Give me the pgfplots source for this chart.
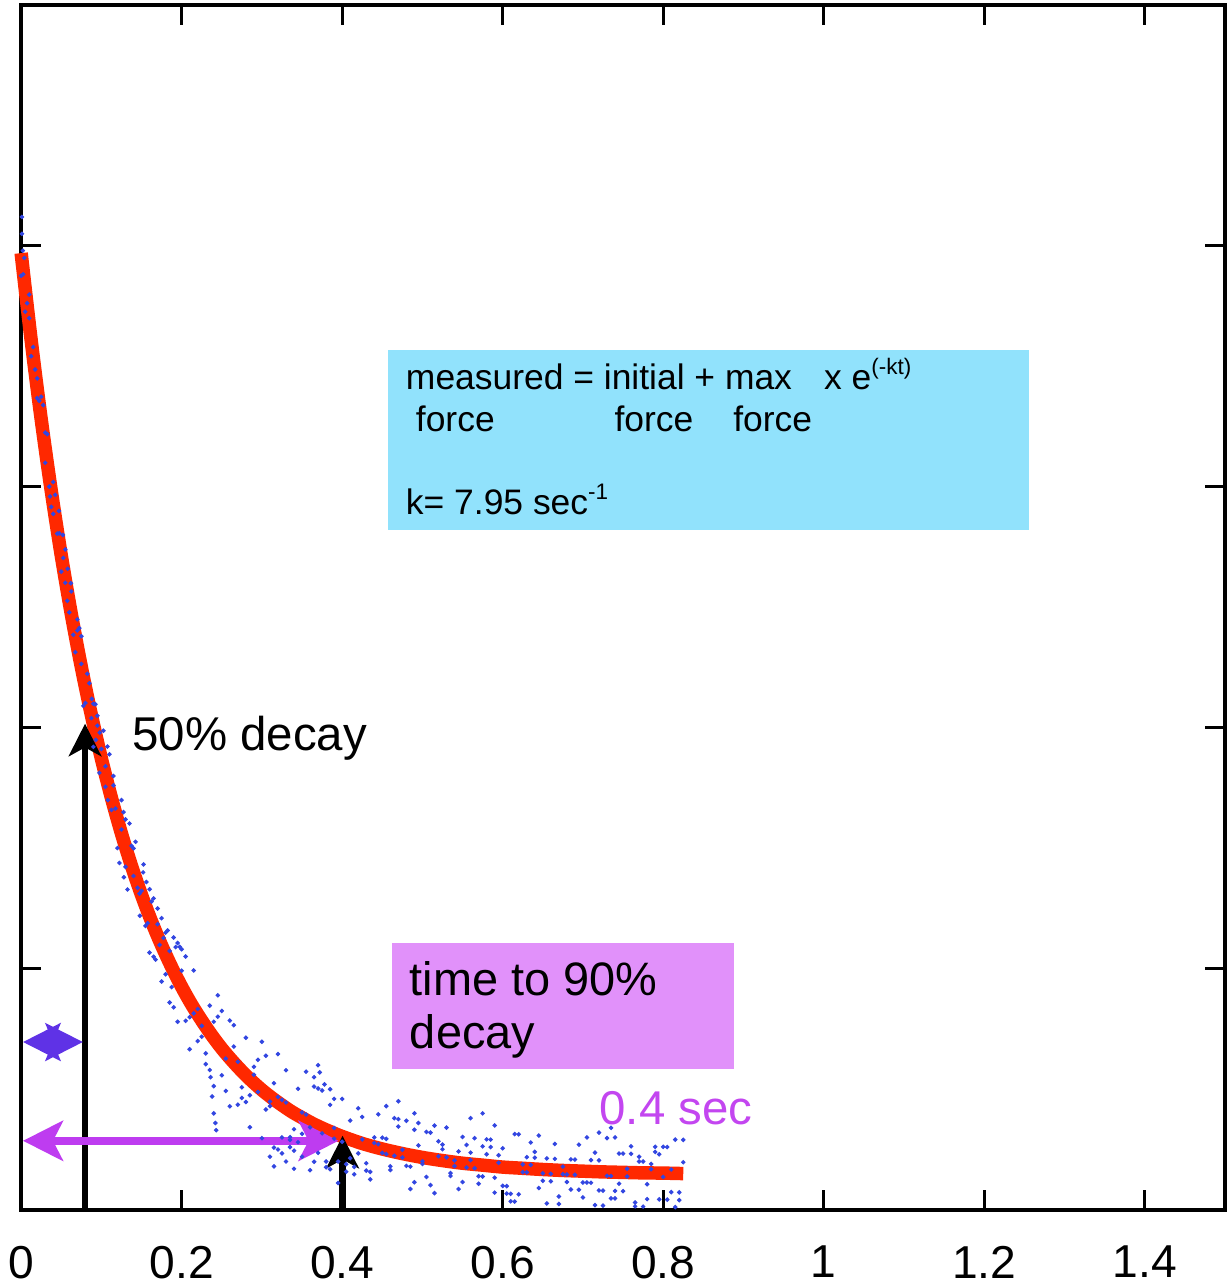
\documentclass[border=0pt]{standalone}
\usepackage{pgfplots}
\pgfplotsset{compat=1.18}
\usepackage{fontspec}
\setmainfont{Liberation Sans}
\usetikzlibrary{arrows.meta}
\definecolor{fitred}{RGB}{255,40,0}
\definecolor{dotblue}{RGB}{50,70,225}
\definecolor{cyanbox}{RGB}{145,226,252}
\definecolor{pinkbox}{RGB}{225,145,250}
\definecolor{arrowpurple}{RGB}{190,60,240}
\definecolor{smallarrow}{RGB}{95,50,230}
\definecolor{textpurple}{RGB}{195,70,240}
\begin{document}
\begin{tikzpicture}
\begin{axis}[
  scale only axis, width=482.4pt, height=482.8pt,
  xmin=0, xmax=1.5, ymin=0, ymax=5,
  xtick={0,0.2,0.4,0.6,0.8,1,1.2,1.4},
  xticklabels={0,0.2,0.4,0.6,0.8,1,1.2,1.4},
  ytick={1,2,3,4}, yticklabels={},
  tick align=inside, major tick length=8pt,
  tick style={line width=1.2pt, black},
  axis line style={line width=1.6pt},
  xticklabel style={font=\fontsize{18.5}{20}\selectfont, yshift=-11pt},
  /pgf/number format/assume math mode=true,
  clip=false,
]
% boxes
\fill[cyanbox] (axis cs:0.4577,2.821) rectangle (axis cs:1.2562,3.567);
\fill[pinkbox] (axis cs:0.4627,0.584) rectangle (axis cs:0.888,1.106);

% fitted curve
\addplot[fitred, line width=5.4pt, smooth] coordinates {
(0.000,3.970)(0.0125,3.608)(0.025,3.280)(0.0375,2.984)(0.05,2.715)(0.0625,2.472)
(0.075,2.252)(0.0875,2.053)(0.1,1.872)(0.1125,1.709)(0.125,1.561)(0.1375,1.427)
(0.15,1.306)(0.1625,1.196)(0.175,1.097)(0.1875,1.007)(0.2,0.925)(0.2125,0.851)
(0.225,0.785)(0.2375,0.724)(0.25,0.669)(0.2625,0.620)(0.275,0.575)(0.2875,0.534)
(0.3,0.497)(0.3125,0.464)(0.325,0.434)(0.3375,0.406)(0.35,0.382)(0.3625,0.359)
(0.375,0.339)(0.3875,0.321)(0.4,0.304)(0.425,0.275)(0.45,0.252)(0.475,0.233)
(0.5,0.217)(0.525,0.204)(0.55,0.193)(0.575,0.185)(0.6,0.177)(0.625,0.172)
(0.65,0.167)(0.675,0.163)(0.7,0.160)(0.725,0.157)(0.75,0.155)(0.775,0.153)
(0.8,0.152)(0.825,0.150)
};

% measured points
\addplot[only marks, mark=*, mark size=0.7pt, dotblue, mark options={draw=none, fill=dotblue}] coordinates {
(0.0000,3.876)(0.0025,3.882)(0.0050,3.727)(0.0075,3.762)(0.0100,3.798)(0.0125,3.542)(0.0150,3.580)
(0.0175,3.487)(0.0200,3.368)(0.0225,3.357)(0.0250,3.374)(0.0275,3.339)(0.0300,3.225)(0.0325,3.219)
(0.0350,3.001)(0.0375,2.917)(0.0400,2.888)(0.0425,2.967)(0.0450,2.806)(0.0475,2.807)(0.0500,2.648)
(0.0525,2.705)(0.0550,2.602)(0.0575,2.527)(0.0600,2.479)(0.0625,2.566)(0.0650,2.386)(0.0675,2.314)
(0.0700,2.404)(0.0725,2.414)(0.0750,2.265)(0.0775,2.091)(0.0800,2.103)(0.0825,2.224)(0.0850,2.185)
(0.0875,2.040)(0.0900,1.921)(0.0925,2.098)(0.0950,2.009)(0.0975,1.813)(0.1000,1.912)
(0.001,4.12)(0.001,4.05)(0.002,3.98)(0.004,3.95)(0.010,3.70)(0.020,3.45)(0.030,3.10)(0.036,2.96)
(0.040,3.02)(0.047,2.90)(0.052,2.80)(0.055,2.74)(0.058,2.66)(0.062,2.60)(0.070,2.45)(0.075,2.38)
(0.088,2.12)(0.090,2.10)(0.093,1.95)(0.095,2.05)(0.098,1.98)
(0.1025,1.988)(0.1050,1.755)(0.1075,1.922)(0.1100,1.890)(0.1125,1.659)(0.1150,1.761)(0.1175,1.665)
(0.1200,1.501)(0.1225,1.439)(0.1250,1.578)(0.1275,1.650)(0.1300,1.423)(0.1325,1.329)(0.1350,1.603)
(0.1375,1.510)(0.1400,1.385)(0.1425,1.527)(0.1450,1.336)(0.1475,1.312)(0.1500,1.323)(0.1525,1.433)
(0.1550,1.178)(0.1575,1.189)(0.1600,1.067)(0.1625,1.279)(0.1650,1.292)(0.1675,1.038)(0.1700,1.185)
(0.1725,1.099)(0.1750,0.947)(0.1775,1.128)(0.1800,0.977)(0.1825,1.159)(0.1850,1.074)(0.1875,0.924)
(0.1900,0.840)(0.1925,1.090)(0.1950,1.107)(0.1975,1.091)
(0.115,1.80)(0.125,1.70)(0.130,1.62)(0.140,1.50)(0.152,1.40)(0.156,1.36)(0.160,1.33)(0.148,1.22)
(0.170,1.25)(0.175,1.21)(0.165,1.05)(0.180,1.15)(0.190,1.13)(0.195,0.78)(0.185,0.86)(0.128,1.38)
(0.105,1.84)(0.108,1.70)
(0.200,1.081)(0.200,0.992)(0.205,0.784)(0.205,1.051)(0.210,0.666)(0.210,0.799)(0.215,0.815)(0.215,0.993)
(0.220,0.700)(0.220,0.833)(0.225,0.718)(0.225,0.763)(0.230,0.649)(0.230,0.604)(0.235,0.580)(0.235,0.847)
(0.240,0.513)(0.240,0.780)(0.245,0.801)(0.245,0.890)(0.250,0.825)(0.250,0.558)(0.255,0.493)(0.255,0.627)
(0.260,0.785)(0.260,0.429)(0.265,0.766)(0.265,0.677)(0.270,0.614)(0.270,0.436)(0.275,0.508)(0.275,0.464)
(0.280,0.714)(0.280,0.447)(0.285,0.475)(0.285,0.342)(0.290,0.593)(0.290,0.560)(0.295,0.489)(0.295,0.622)
(0.300,0.297)(0.300,0.697)(0.305,0.416)(0.305,0.639)(0.310,0.449)(0.310,0.430)(0.315,0.525)(0.315,0.258)
(0.320,0.646)(0.320,0.468)(0.325,0.456)(0.325,0.234)(0.330,0.445)(0.330,0.579)(0.335,0.301)(0.335,0.290)
(0.340,0.334)(0.340,0.245)(0.345,0.502)(0.345,0.280)(0.350,0.404)(0.350,0.315)(0.355,0.395)(0.355,0.573)
(0.360,0.342)(0.360,0.164)(0.365,0.511)(0.365,0.199)(0.370,0.236)(0.370,0.503)(0.375,0.317)(0.375,0.495)
(0.380,0.176)(0.380,0.200)(0.385,0.168)(0.385,0.435)(0.390,0.295)(0.390,0.339)(0.395,0.111)(0.395,0.200)
(0.400,0.460)(0.400,0.282)
(0.236,0.55)(0.238,0.47)(0.240,0.40)(0.242,0.36)(0.243,0.33)(0.365,0.55)(0.370,0.60)(0.372,0.57)
(0.378,0.52)(0.385,0.50)(0.390,0.46)(0.310,0.22)(0.315,0.18)(0.320,0.25)(0.330,0.20)(0.340,0.17)
(0.350,0.22)(0.325,0.30)(0.335,0.26)
(0.405,0.189)(0.405,0.158)(0.410,0.214)(0.410,0.370)(0.415,0.147)(0.415,0.178)(0.420,0.421)(0.420,0.234)
(0.425,0.385)(0.425,0.292)(0.430,0.193)(0.430,0.162)(0.435,0.157)(0.435,0.126)(0.440,0.277)(0.440,0.300)
(0.445,0.272)(0.445,0.396)(0.450,0.299)(0.450,0.236)(0.455,0.231)(0.455,0.294)(0.460,0.165)(0.460,0.180)
(0.465,0.380)(0.465,0.224)(0.470,0.345)(0.470,0.376)(0.475,0.249)(0.475,0.217)(0.480,0.369)(0.480,0.182)
(0.485,0.086)(0.485,0.179)(0.490,0.332)(0.490,0.114)(0.495,0.360)(0.495,0.267)(0.500,0.201)(0.500,0.190)
(0.505,0.136)(0.505,0.323)(0.510,0.320)(0.510,0.102)(0.515,0.069)(0.515,0.349)(0.520,0.284)(0.520,0.222)
(0.525,0.251)(0.525,0.270)(0.530,0.217)(0.530,0.341)(0.535,0.152)(0.535,0.140)(0.540,0.181)(0.540,0.205)
(0.545,0.242)(0.545,0.086)(0.550,0.115)(0.550,0.302)(0.555,0.175)(0.555,0.269)(0.560,0.206)(0.560,0.237)
(0.565,0.172)(0.565,0.297)(0.570,0.108)(0.570,0.139)(0.575,0.138)(0.575,0.263)(0.580,0.292)(0.580,0.230)
(0.585,0.260)(0.585,0.291)(0.590,0.133)(0.590,0.071)(0.595,0.226)(0.595,0.195)(0.600,0.099)(0.600,0.255)
(0.605,0.067)(0.605,0.098)(0.610,0.035)(0.610,0.066)(0.615,0.314)(0.615,0.034)(0.620,0.313)(0.620,0.064)
(0.625,0.156)(0.625,0.188)(0.630,0.218)(0.630,0.155)(0.635,0.279)(0.635,0.186)(0.640,0.216)(0.640,0.240)
(0.645,0.308)(0.645,0.090)(0.650,0.120)(0.650,0.151)(0.655,0.213)(0.655,0.026)(0.660,0.118)(0.660,0.149)
(0.665,0.273)(0.665,0.211)(0.670,0.055)(0.670,0.024)(0.675,0.147)(0.675,0.179)(0.680,0.146)(0.680,0.115)
(0.685,0.084)(0.685,0.209)(0.690,0.208)(0.690,0.145)(0.695,0.270)(0.695,0.083)(0.700,0.051)(0.700,0.113)
(0.705,0.113)(0.705,0.300)(0.710,0.112)(0.710,0.206)(0.715,0.019)(0.715,0.237)(0.720,0.080)(0.720,0.205)
(0.725,0.017)(0.725,0.079)(0.730,0.141)(0.730,0.297)(0.735,0.047)(0.735,0.140)(0.740,0.047)(0.740,0.078)
(0.745,0.233)(0.745,0.108)(0.750,0.233)(0.750,0.077)(0.755,0.138)(0.755,0.170)(0.760,0.263)(0.760,0.232)
(0.765,0.014)(0.765,0.030)(0.770,0.200)(0.770,0.220)(0.775,0.013)(0.775,0.200)(0.780,0.106)(0.780,0.044)
(0.785,0.168)(0.785,0.190)(0.790,0.261)(0.790,0.240)(0.795,0.043)(0.795,0.230)(0.800,0.136)(0.800,0.261)
(0.805,0.260)(0.805,0.042)(0.810,0.167)(0.810,0.073)(0.815,0.011)(0.815,0.291)(0.820,0.072)(0.820,0.040)
(0.825,0.290)(0.825,0.197)
(0.455,0.43)(0.47,0.45)(0.49,0.40)(0.56,0.38)(0.575,0.40)(0.59,0.35)(0.72,0.32)(0.735,0.34)(0.74,0.30)
};

% arrows
\draw[black, line width=2.6pt, -{Stealth[length=13pt,width=13pt,inset=3.5pt]}]
  (axis cs:0.0796,0) -- (axis cs:0.0796,2.017);
\draw[black, line width=2.6pt, -{Stealth[length=13pt,width=13pt,inset=3.5pt]}]
  (axis cs:0.4005,0) -- (axis cs:0.4005,0.307);
\draw[arrowpurple, line width=3.2pt,
  {Stealth[length=16pt,width=16pt,inset=4pt]}-{Stealth[length=16pt,width=16pt,inset=4pt]}]
  (axis cs:0.0023,0.286) -- (axis cs:0.3955,0.286);
\draw[smallarrow, line width=2.5pt,
  {Stealth[length=15pt,width=15pt,inset=3pt]}-{Stealth[length=15pt,width=15pt,inset=3pt]}]
  (axis cs:0.0023,0.696) -- (axis cs:0.077,0.696);

% texts
\node[anchor=base west, inner sep=0, font=\fontsize{19}{22}\selectfont] at (axis cs:0.138,1.906) {50\% decay};
\node[anchor=base west, inner sep=0, font=\fontsize{19}{22}\selectfont, text=textpurple] at (axis cs:0.720,0.352) {0.4 sec};
\node[anchor=base west, inner sep=0, font=\fontsize{18.8}{22}\selectfont] at (axis cs:0.4838,0.891) {time to 90\%};
\node[anchor=base west, inner sep=0, font=\fontsize{18.8}{22}\selectfont] at (axis cs:0.4838,0.671) {decay};
\node[anchor=base west, inner sep=0, font=\fontsize{14.2}{16}\selectfont] at (axis cs:0.4789,3.405) {measured = initial + max};
\node[anchor=base west, inner sep=0, font=\fontsize{14.2}{16}\selectfont] at (axis cs:1.0,3.405) {x e\raisebox{6pt}{\fontsize{9}{10}\selectfont(-kt)}};
\node[anchor=base west, inner sep=0, font=\fontsize{14.2}{16}\selectfont] at (axis cs:0.4913,3.231) {force};
\node[anchor=base west, inner sep=0, font=\fontsize{14.2}{16}\selectfont] at (axis cs:0.7388,3.231) {force};
\node[anchor=base west, inner sep=0, font=\fontsize{14.2}{16}\selectfont] at (axis cs:0.8868,3.231) {force};
\node[anchor=base west, inner sep=0, font=\fontsize{14.2}{16}\selectfont] at (axis cs:0.4789,2.887) {k= 7.95 sec\raisebox{6pt}{\fontsize{9}{10}\selectfont-1}};

\coordinate (bbl) at (rel axis cs:-0.0158,-0.0622);
\coordinate (btr) at (rel axis cs:1.0017,1.0041);
\end{axis}
\path (bbl) rectangle (btr);
\end{tikzpicture}
\end{document}
